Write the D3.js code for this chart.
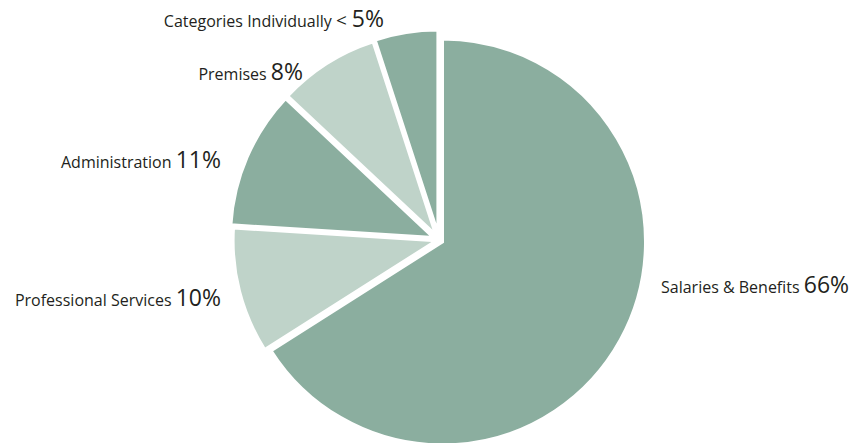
<!DOCTYPE html>
<html>
<head>
<meta charset="utf-8">
<script src="https://cdn.jsdelivr.net/npm/d3@7"></script>
<style>
  body { margin: 0; background: #fff; }
  text { font-family: "Open Sans", "Noto Sans", sans-serif; fill: #231f20; }
</style>
</head>
<body>
<svg id="chart"></svg>
<script>
let width = 856,
    height = 443,
    svg = d3.select("#chart").attr("width", width).attr("height", height);

// data, clockwise from 12 o'clock
const categories = ["Salaries & Benefits", "Professional Services", "Administration", "Premises", "Categories Individually"];
const shares = [66, 10, 11, 8, 5];
const prefixes = ["", "", "", "", "< "];
const tones = ["dark", "light", "dark", "light", "dark"];

// layout only: how far each slice is pulled out, and where the labels sit
const explode = [4, 3, 6, 6, 7];
const labelX = [661, 221, 221, 303, 384];
const labelY = [293, 306, 168, 80, 27];
const labelAnchor = ["start", "end", "end", "end", "end"];

const cx = 439, cy = 240, radius = 203;

const color = d3.scaleOrdinal()
    .domain(["dark", "light"])
    .range(["#8bae9f", "#bfd3c9"]);

const pie = d3.pie().sort(null).value(d => d);
const arc = d3.arc().innerRadius(0).outerRadius(radius);

const arcs = pie(shares);

const g = svg.append("g").attr("transform", "translate(" + cx + "," + cy + ")");

g.selectAll("path")
    .data(arcs)
    .enter()
    .append("path")
    .attr("d", arc)
    .attr("fill", (d, i) => color(tones[i]))
    .attr("stroke", "#fff")
    .attr("stroke-width", 3)
    .attr("transform", function (d, i) {
        const a = (d.startAngle + d.endAngle) / 2;
        return "translate(" + (Math.sin(a) * explode[i]) + "," + (-Math.cos(a) * explode[i]) + ")";
    });

// labels
const labels = svg.selectAll("text.label")
    .data(categories)
    .enter()
    .append("text")
    .attr("class", "label")
    .attr("x", (d, i) => labelX[i])
    .attr("y", (d, i) => labelY[i])
    .attr("text-anchor", (d, i) => labelAnchor[i]);

labels.append("tspan")
    .style("font-size", "16px")
    .text(d => d + " ");

labels.filter((d, i) => prefixes[i] !== "")
    .append("tspan")
    .style("font-size", "19px")
    .text((d, i) => "< ");

labels.append("tspan")
    .style("font-size", "23px")
    .text(function (d) {
        return shares[categories.indexOf(d)] + "%";
    });
</script>
</body>
</html>
